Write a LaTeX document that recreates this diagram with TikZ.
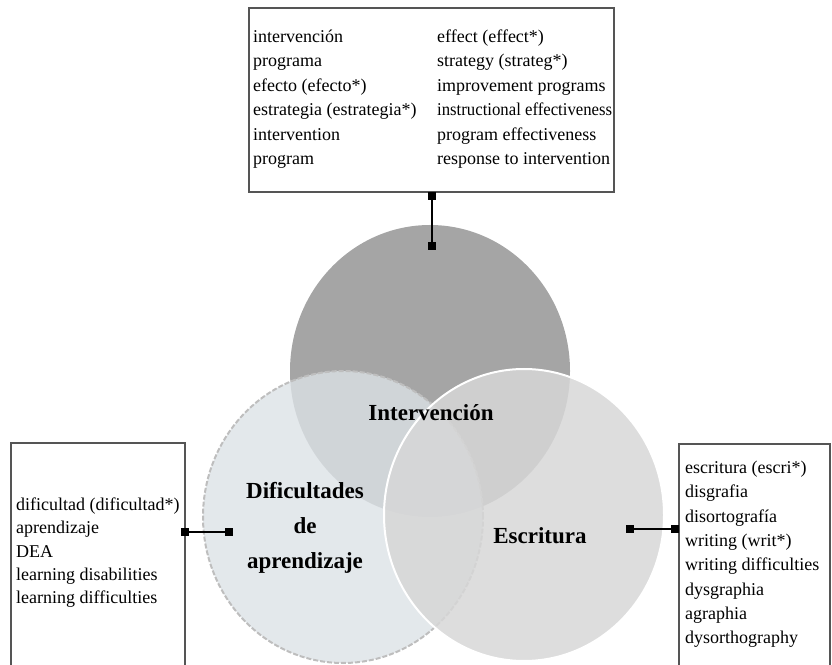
\documentclass[tikz,border=0pt]{standalone}
\usepackage{fontspec}
\usepackage{graphicx}
\setmainfont{Liberation Serif}
\usetikzlibrary{shapes.geometric}

\definecolor{intgray}{RGB}{165,165,165}
\definecolor{difblue}{RGB}{220,226,230}
\definecolor{escgray}{RGB}{215,215,215}
\definecolor{dashgray}{RGB}{190,190,190}
\definecolor{boxgray}{RGB}{85,85,85}

\tikzset{
  termtext/.style={anchor=base west, inner sep=0, font=\fontsize{18}{24}\selectfont},
  listbox/.style={draw=boxgray, line width=1.2, minimum width=#1},
  setlabel/.style={inner sep=0, align=center, font=\fontsize{23}{35}\selectfont\bfseries},
  setcirc/.style={ellipse, minimum width=280, minimum height=292, inner sep=0},
  pin/.style={fill=black, minimum size=8, inner sep=0},
  link/.style={line width=1.6}
}

\begin{document}
\begin{tikzpicture}[x=1pt,y=1pt]
    \useasboundingbox (0,0) rectangle (832,664);
    \clip (0,0) rectangle (832,664);

    \node[setcirc, fill=intgray] (intcirc) at (430,293) {};
    \node[setcirc, fill=difblue, fill opacity=.79, draw=dashgray, line width=2, dash pattern=on 5 off 2] (difcirc) at (343,147) {};
    \node[setcirc, fill=escgray, fill opacity=.85, draw=white, line width=2] (esccirc) at (524,149) {};

    \node[setlabel] (intlab) at (431,251) {Intervención};
    \node[setlabel] (diflab) at (305,136) {Dificultades\\de\\aprendizaje};
    \node[setlabel] (esclab) at (540,128) {Escritura};

    \node[listbox=365, minimum height=184] (intbox) at (431.5,564) {};
    \node[listbox=174, minimum height=241] (difbox) at (98,100.5) {};
    \node[listbox=151, minimum height=240] (escbox) at (754.5,100) {};

    \foreach \t [count=\i] in {intervención, programa, efecto (efecto*), estrategia (estrategia*), intervention, program}
        \node[termtext] (inta\i) at (253,621.5-24.5*\i+24.5) {\t};
    \foreach \t [count=\i] in {effect (effect*), strategy (strateg*), improvement programs, {\scalebox{.93}[1]{instructional effectiveness}}, program effectiveness, response to intervention}
        \node[termtext] (intb\i) at (437,621.5-24.5*\i+24.5) {\t};
    \foreach \t [count=\i] in {dificultad (dificultad*), aprendizaje, DEA, learning disabilities, learning difficulties}
        \node[termtext] (dift\i) at (16,153.5-23.3*\i+23.3) {\t};
    \foreach \t [count=\i] in {escritura (escri*), disgrafia, disortografía, writing (writ*), writing difficulties, dysgraphia, agraphia, dysorthography}
        \node[termtext] (esct\i) at (685,190.5-24.3*\i+24.3) {\t};

    \node[pin] (intp1) at (432,468) {};
    \node[pin] (intp2) at (432,418) {};
    \draw[link] (intp1) -- (intp2);
    \node[pin] (difp1) at (185,132) {};
    \node[pin] (difp2) at (229,132) {};
    \draw[link] (difp1) -- (difp2);
    \node[pin] (escp1) at (630,135) {};
    \node[pin] (escp2) at (675,135) {};
    \draw[link] (escp1) -- (escp2);

\end{tikzpicture}
\end{document}
